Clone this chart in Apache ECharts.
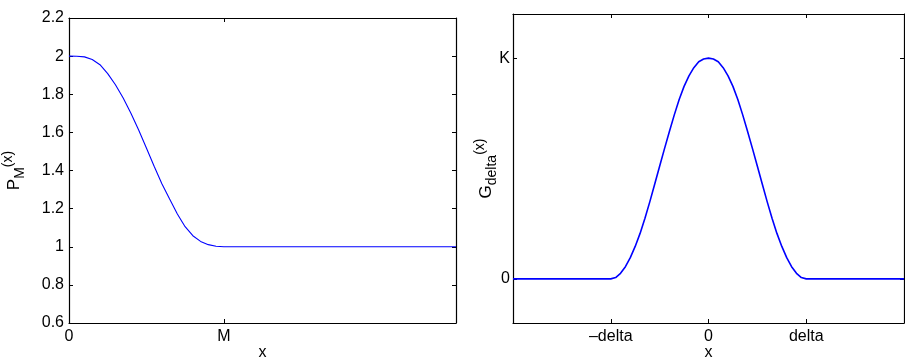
<!DOCTYPE html>
<html>
<head>
<meta charset="utf-8">
<script src="https://cdn.jsdelivr.net/npm/echarts@6/dist/echarts.min.js"></script>
<style>
html,body{margin:0;padding:0;background:#fff;}
#c{width:905px;height:359px;}
</style>
</head>
<body>
<div id="c"></div>
<script>
// ---- Left panel: P_M(x) ----
var leftX = [0, 0.05, 0.1, 0.15, 0.2, 0.25, 0.3, 0.35, 0.4, 0.45, 0.5, 0.55, 0.6, 0.65, 0.7, 0.75, 0.8, 0.85, 0.9, 0.95, 1.0, 2.5];
var leftY = [2, 1.999, 1.996, 1.982, 1.955, 1.908, 1.85, 1.78, 1.70, 1.612, 1.518, 1.422, 1.33, 1.25, 1.172, 1.105, 1.058, 1.028, 1.011, 1.003, 1, 1];
var leftXTicks = [0, 1];
var leftXTickLabels = ['0', 'M'];
var leftYTicks = [0.6, 0.8, 1.0, 1.2, 1.4, 1.6, 1.8, 2.0, 2.2];
var leftYTickLabels = ['0.6', '0.8', '1', '1.2', '1.4', '1.6', '1.8', '2', '2.2'];

// ---- Right panel: G_delta(x) ----
var rightX = [-2, -1, -0.95, -0.9, -0.85, -0.8, -0.75, -0.7, -0.65, -0.6, -0.55, -0.5, -0.45, -0.4, -0.35, -0.3, -0.25, -0.2, -0.15, -0.1, -0.05, 0,
              0.05, 0.1, 0.15, 0.2, 0.25, 0.3, 0.35, 0.4, 0.45, 0.5, 0.55, 0.6, 0.65, 0.7, 0.75, 0.8, 0.85, 0.9, 0.95, 1, 2];
var rightY = [0, 0, 0.006, 0.025, 0.055, 0.096, 0.147, 0.206, 0.275, 0.35, 0.43, 0.51, 0.59, 0.668, 0.743, 0.813, 0.872, 0.92, 0.957, 0.984, 0.996, 1,
              0.996, 0.984, 0.957, 0.92, 0.872, 0.813, 0.743, 0.668, 0.59, 0.51, 0.43, 0.35, 0.275, 0.206, 0.147, 0.096, 0.055, 0.025, 0.006, 0, 0];
var rightXTicks = [-1, 0, 1];
var rightXTickLabels = ['\u2013delta', '0', 'delta'];
var rightYTicks = [0, 1];
var rightYTickLabels = ['0', 'K'];

function pairs(xs, ys) { return xs.map(function (x, i) { return [x, ys[i]]; }); }
function labelFor(ticks, labels) {
  return function (v) {
    for (var i = 0; i < ticks.length; i++) if (Math.abs(ticks[i] - v) < 1e-6) return labels[i];
    return '';
  };
}

var FONT = 'Liberation Sans, Arial, Helvetica, sans-serif';
var FS = 16;
var lineStyle = { color: '#000', width: 1.2 };
var tickStyle = { color: '#000', width: 1 };

function mkX(grid, pos, min, max, ticks, labels, showLabel, name) {
  return {
    type: 'value', gridIndex: grid, position: pos, min: min, max: max,
    axisLine: { show: true, onZero: false, lineStyle: lineStyle },
    axisTick: { show: true, inside: true, length: 4, lineStyle: tickStyle, customValues: ticks },
    axisLabel: {
      show: showLabel, customValues: ticks, formatter: labelFor(ticks, labels),
      color: '#000', fontFamily: FONT, fontSize: FS, margin: 6,
      showMinLabel: true, showMaxLabel: true
    },
    splitLine: { show: false },
    name: name || '', nameLocation: 'middle', nameGap: 22, nameMoveOverlap: false,
    nameTextStyle: { color: '#000', fontFamily: FONT, fontSize: FS }
  };
}
function mkY(grid, pos, min, max, ticks, labels, showLabel, margin, nameObj) {
  var o = {
    type: 'value', gridIndex: grid, position: pos, min: min, max: max,
    axisLine: { show: true, onZero: false, lineStyle: lineStyle },
    axisTick: { show: true, inside: true, length: 4, lineStyle: tickStyle, customValues: ticks },
    axisLabel: {
      show: showLabel, customValues: ticks, formatter: labelFor(ticks, labels),
      color: '#000', fontFamily: FONT, fontSize: FS, margin: margin,
      showMinLabel: true, showMaxLabel: true
    },
    splitLine: { show: false }
  };
  if (nameObj) {
    o.name = nameObj.name;
    o.nameLocation = 'middle';
    o.nameGap = nameObj.gap;
    o.nameRotate = 90;
    o.nameMoveOverlap = false;
    o.nameTextStyle = {
      color: '#000', fontFamily: FONT, fontSize: FS, lineHeight: 20,
      rich: {
        m: { fontFamily: FONT, fontSize: 17, color: '#000', verticalAlign: 'middle', lineHeight: 20 },
        s: { fontFamily: FONT, fontSize: 14, color: '#000', verticalAlign: 'bottom', lineHeight: 20, padding: [0, 0, -3, 0] },
        p: { fontFamily: FONT, fontSize: 14, color: '#000', verticalAlign: 'top', lineHeight: 20, padding: [-3, 0, 0, 0] }
      }
    };
  }
  return o;
}

var chart = echarts.init(document.getElementById('c'), null, { renderer: 'canvas' });
chart.setOption({
  animation: false,
  backgroundColor: '#fff',
  grid: [
    { left: 69, top: 18, width: 387, height: 305, containLabel: false, outerBoundsMode: 'none' },
    { left: 513, top: 14, width: 391, height: 309, containLabel: false, outerBoundsMode: 'none' }
  ],
  xAxis: [
    mkX(0, 'bottom', 0, 2.5, leftXTicks, leftXTickLabels, true, 'x'),
    mkX(0, 'top', 0, 2.5, leftXTicks, leftXTickLabels, false),
    mkX(1, 'bottom', -2, 2, rightXTicks, rightXTickLabels, true, 'x'),
    mkX(1, 'top', -2, 2, rightXTicks, rightXTickLabels, false)
  ],
  yAxis: [
    mkY(0, 'left', 0.6, 2.2, leftYTicks, leftYTickLabels, true, 5, { name: '{m|P}{s|M}{p|(x)}', gap: 45 }),
    mkY(0, 'right', 0.6, 2.2, leftYTicks, leftYTickLabels, false, 5),
    mkY(1, 'left', -0.2, 1.2, rightYTicks, rightYTickLabels, true, 3, { name: '{m|G}{s|delta}{p|(x)}', gap: 17 }),
    mkY(1, 'right', -0.2, 1.2, rightYTicks, rightYTickLabels, false, 3)
  ],
  series: [
    {
      type: 'line', xAxisIndex: 0, yAxisIndex: 0, data: pairs(leftX, leftY),
      showSymbol: false, symbol: 'none', smooth: false,
      lineStyle: { color: '#0000ff', width: 1.1 }
    },
    {
      type: 'line', xAxisIndex: 2, yAxisIndex: 2, data: pairs(rightX, rightY),
      showSymbol: false, symbol: 'none', smooth: false,
      lineStyle: { color: '#0000ff', width: 1.6 }
    }
  ]
});
</script>
</body>
</html>
